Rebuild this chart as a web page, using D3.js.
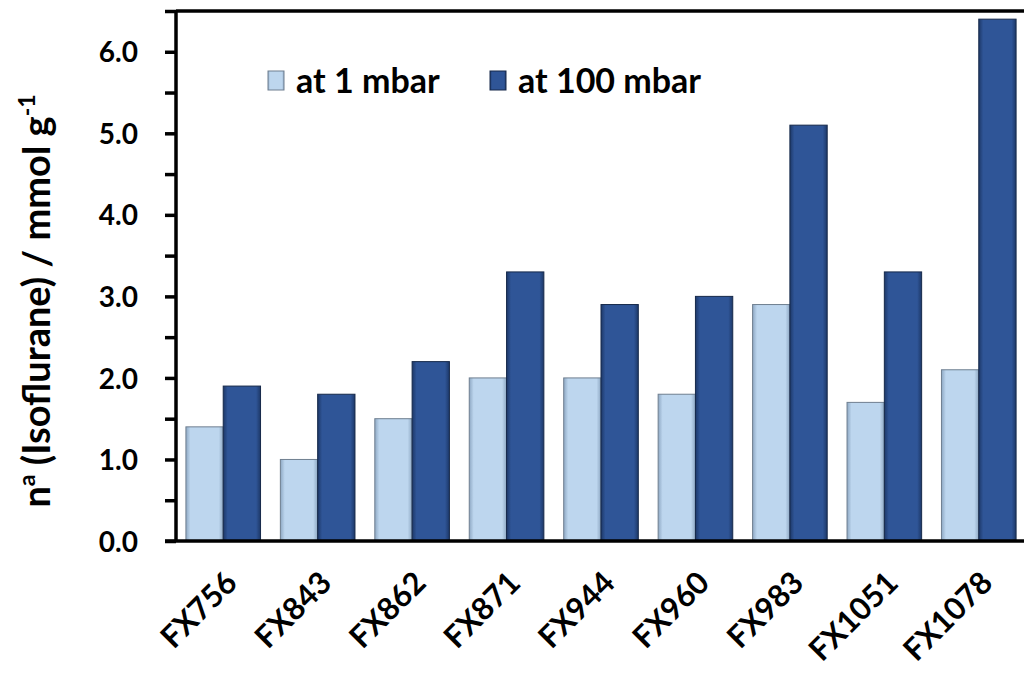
<!DOCTYPE html>
<html>
<head>
<meta charset="utf-8">
<script src="https://cdn.jsdelivr.net/npm/d3@7"></script>
<style>
  body { margin: 0; background: #fff; }
  svg { display: block; }
  svg text { font-family: Lato, "Open Sans", sans-serif; font-weight: bold; }
</style>
</head>
<body>
<div id="chart"></div>
<script>
// data
const samples = ["FX756", "FX843", "FX862", "FX871", "FX944", "FX960", "FX983", "FX1051", "FX1078"];
const at1mbar = [1.4, 1.0, 1.5, 2.0, 2.0, 1.8, 2.9, 1.7, 2.1];
const at100mbar = [1.9, 1.8, 2.2, 3.3, 2.9, 3.0, 5.1, 3.3, 6.4];
const seriesNames = ["at 1 mbar", "at 100 mbar"];
const yTicks = [0, 1, 2, 3, 4, 5, 6];

const width = 1024, height = 679;
const margin = {top: 11, right: -2, bottom: 138, left: 176};
const innerW = width - margin.left - margin.right;
const innerH = height - margin.top - margin.bottom;

const svg = d3.select("#chart").append("svg")
  .attr("width", width)
  .attr("height", height);

// gradients to mimic the shaded bars
const defs = svg.append("defs");
const grads = [
  {id: "gLight", edge: "#8ea8c3", mid: "#bdd6ee"},
  {id: "gDark", edge: "#1d3868", mid: "#2f5597"}
];
grads.forEach(g => {
  const lg = defs.append("linearGradient").attr("id", g.id).attr("x1", 0).attr("x2", 1).attr("y1", 0).attr("y2", 0);
  lg.append("stop").attr("offset", "0%").attr("stop-color", g.edge);
  lg.append("stop").attr("offset", "12%").attr("stop-color", g.mid);
  lg.append("stop").attr("offset", "88%").attr("stop-color", g.mid);
  lg.append("stop").attr("offset", "100%").attr("stop-color", g.edge);
});
const fills = ["url(#gLight)", "url(#gDark)"];
const strokes = ["#6f7f90", "#16294a"];

const g = svg.append("g").attr("transform", `translate(${margin.left},${margin.top})`);

const x = d3.scaleBand().domain(samples).range([0, innerW]).paddingInner(0.21).paddingOuter(0.105);
const xSub = d3.scaleBand().domain([0, 1]).range([0, x.bandwidth()]);
const y = d3.scaleLinear().domain([0, 6.5]).range([innerH, 0]);

const rows = samples.map((s, i) => ({name: s, vals: [at1mbar[i], at100mbar[i]]}));

// bars
const groups = g.selectAll(".grp").data(rows).join("g")
  .attr("class", "grp")
  .attr("transform", d => `translate(${x(d.name)},0)`);

groups.selectAll("rect").data(d => d.vals).join("rect")
  .attr("x", (d, i) => xSub(i))
  .attr("width", xSub.bandwidth())
  .attr("y", d => y(d))
  .attr("height", d => innerH - y(d))
  .attr("fill", (d, i) => fills[i])
  .attr("stroke", (d, i) => strokes[i])
  .attr("stroke-width", 1);

// y axis with minor ticks
const yAxis = g.append("g")
  .call(d3.axisLeft(y).tickValues(d3.range(0, 6.51, 0.5)).tickSize(11).tickFormat(d => yTicks.includes(d) ? d3.format(".1f")(d) : ""));
yAxis.select(".domain").attr("stroke", "#000").attr("stroke-width", 3.5).attr("d", `M0,${innerH}V0`);
yAxis.selectAll(".tick line").attr("stroke", "#000").attr("stroke-width", 3.5);
yAxis.selectAll(".tick text").attr("font-size", 28).attr("fill", "#000").attr("x", -38).attr("dy", "0.36em");

// top frame line
g.append("line").attr("x1", 0).attr("x2", innerW + 10).attr("y1", 0).attr("y2", 0)
  .attr("stroke", "#000").attr("stroke-width", 3.5);

// x axis
const xAxis = g.append("g").attr("transform", `translate(0,${innerH})`)
  .call(d3.axisBottom(x).tickSize(0));
xAxis.select(".domain").attr("stroke", "#000").attr("stroke-width", 3.5).attr("d", `M-11,0H${innerW + 10}`);
xAxis.selectAll(".tick text")
  .attr("font-size", 31)
  .attr("fill", "#000")
  .attr("text-anchor", "end")
  .attr("transform", "translate(8,36) rotate(-45)")
  .attr("x", 0).attr("y", 0).attr("dy", "0.35em");

// y axis title
svg.append("text")
  .attr("transform", `translate(50,${margin.top + 290}) rotate(-90)`)
  .attr("text-anchor", "middle")
  .attr("font-size", 38)
  .attr("fill", "#000")
  .call(t => {
    t.append("tspan").text("n");
    t.append("tspan").attr("font-size", 23).attr("dy", -15).text("a");
    t.append("tspan").attr("dy", 15).text(" (Isoflurane) / mmol g");
    t.append("tspan").attr("font-size", 23).attr("dy", -15).text("-1");
  });

// legend
const legendX = [268, 490];
const legend = svg.append("g");
seriesNames.forEach((name, i) => {
  const lg = legend.append("g").attr("transform", `translate(${legendX[i]},71)`);
  lg.append("rect").attr("width", 16).attr("height", 19)
    .attr("fill", fills[i]).attr("stroke", strokes[i]).attr("stroke-width", 1);
  lg.append("text").attr("x", 28).attr("y", 10).attr("dy", "0.36em")
    .attr("font-size", 34).attr("fill", "#000").text(name);
});
</script>
</body>
</html>
